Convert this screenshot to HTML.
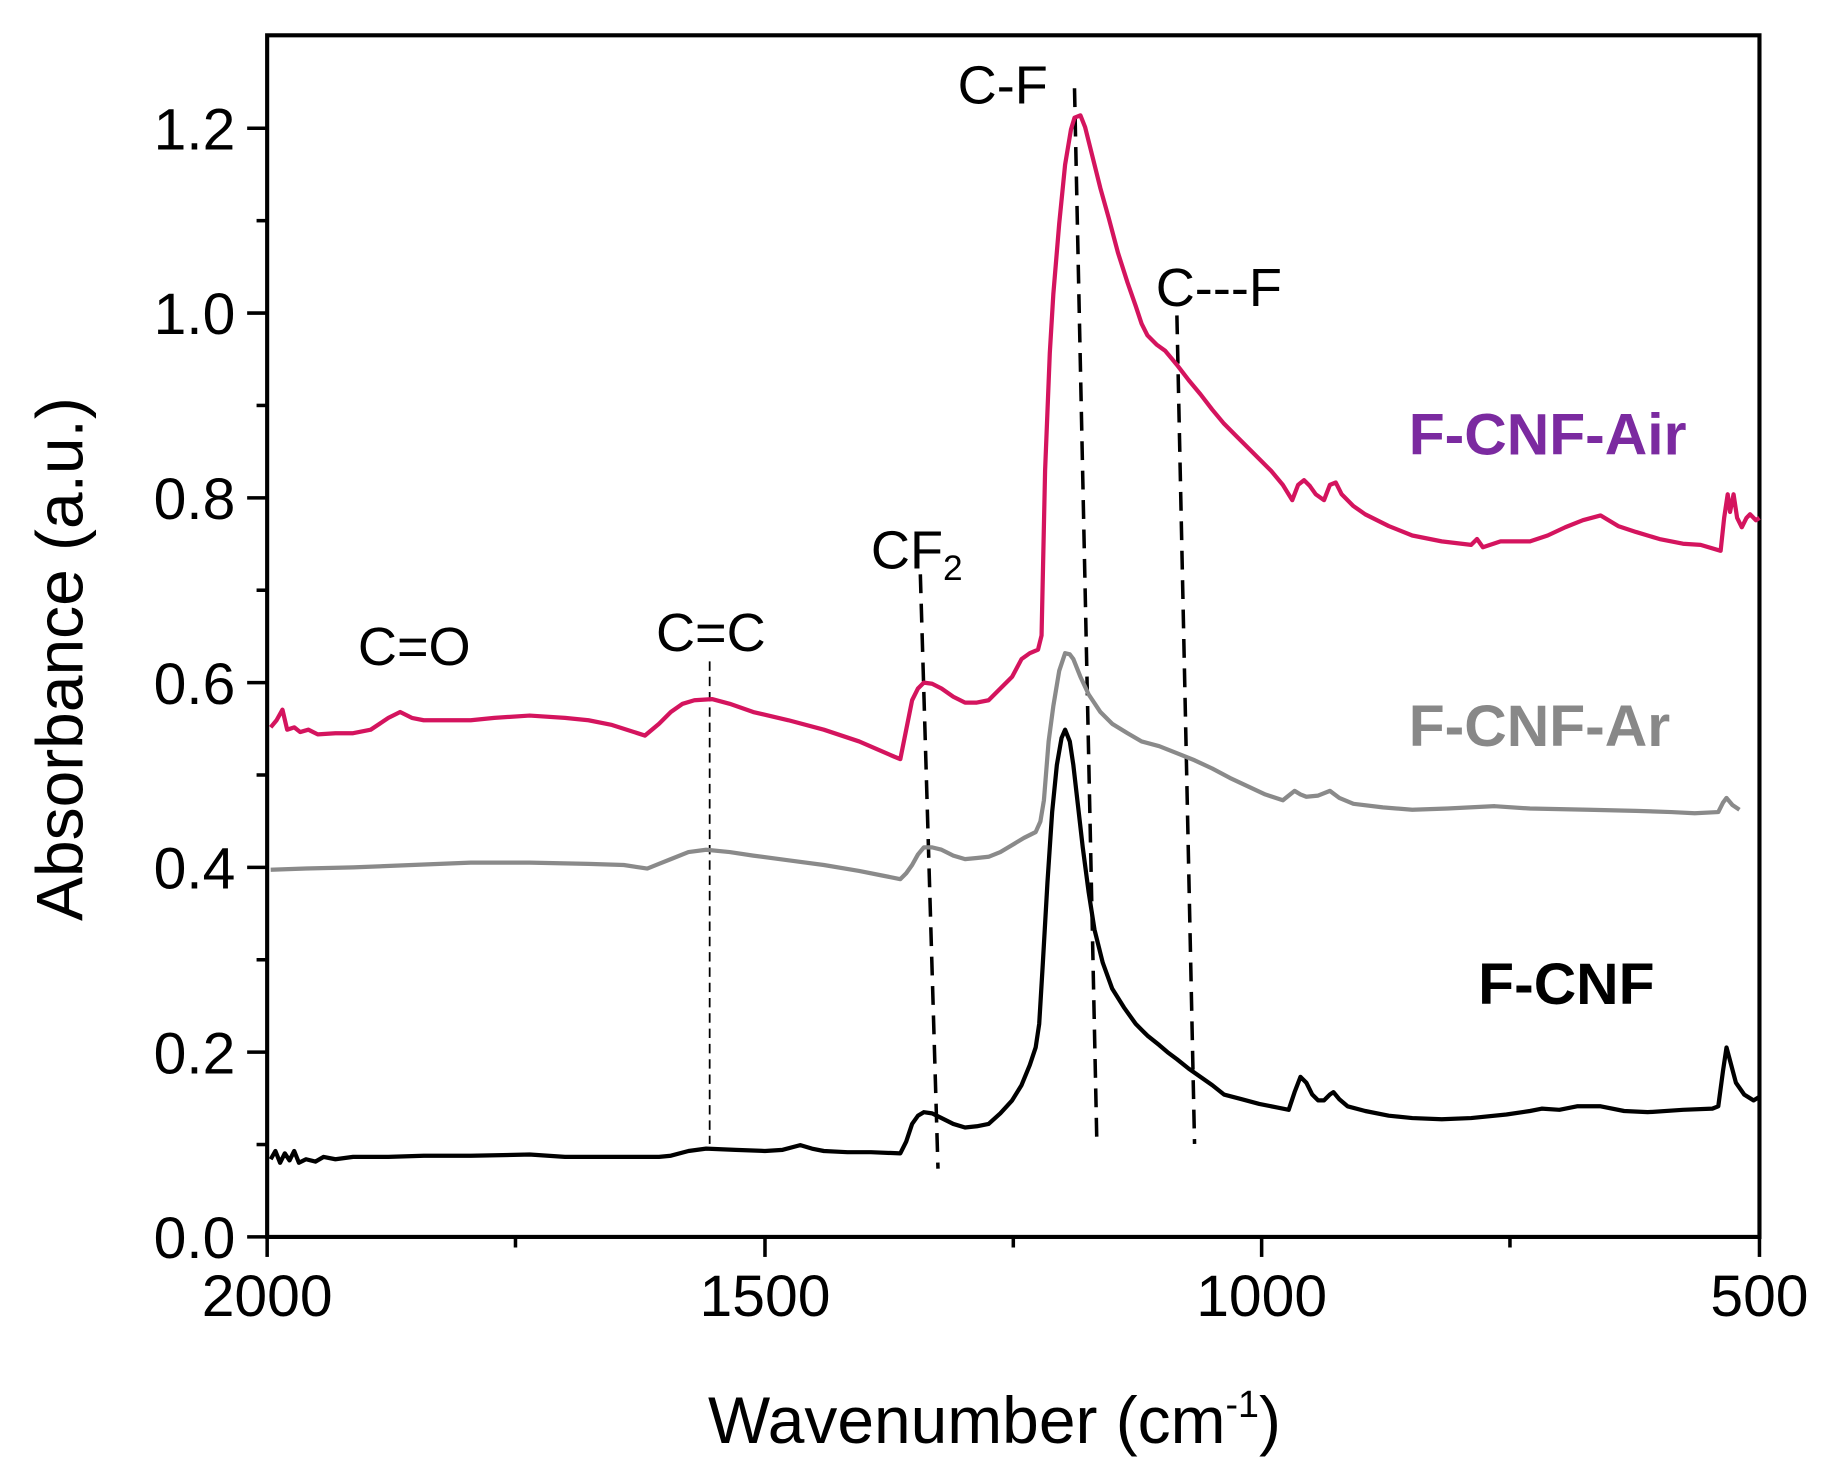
<!DOCTYPE html>
<html><head><meta charset="utf-8"><style>
html,body{margin:0;padding:0;background:#fff;}
svg{display:block;}
text{font-family:"Liberation Sans",sans-serif;}
</style></head><body>
<svg width="1836" height="1469" viewBox="0 0 1836 1469" xmlns="http://www.w3.org/2000/svg">
<g transform="scale(1.1769,1.1769)">
<rect x="227" y="30" width="1268" height="1021" fill="none" stroke="#000" stroke-width="3.5"/>
<g stroke="#000" stroke-width="3">
<line x1="210" y1="1051" x2="227" y2="1051"/>
<line x1="210" y1="894" x2="227" y2="894"/>
<line x1="210" y1="737" x2="227" y2="737"/>
<line x1="210" y1="580" x2="227" y2="580"/>
<line x1="210" y1="423" x2="227" y2="423"/>
<line x1="210" y1="266" x2="227" y2="266"/>
<line x1="210" y1="109" x2="227" y2="109"/>
<line x1="218" y1="972.5" x2="227" y2="972.5"/>
<line x1="218" y1="815.5" x2="227" y2="815.5"/>
<line x1="218" y1="658.5" x2="227" y2="658.5"/>
<line x1="218" y1="501.5" x2="227" y2="501.5"/>
<line x1="218" y1="344.5" x2="227" y2="344.5"/>
<line x1="218" y1="187.5" x2="227" y2="187.5"/>
<line x1="227" y1="1051" x2="227" y2="1068"/>
<line x1="650" y1="1051" x2="650" y2="1068"/>
<line x1="1072" y1="1051" x2="1072" y2="1068"/>
<line x1="1495" y1="1051" x2="1495" y2="1068"/>
<line x1="438" y1="1051" x2="438" y2="1060"/>
<line x1="861" y1="1051" x2="861" y2="1060"/>
<line x1="1283" y1="1051" x2="1283" y2="1060"/>
</g>
<g font-size="50" text-anchor="end" fill="#000">
<text x="200" y="1069">0.0</text>
<text x="200" y="912">0.2</text>
<text x="200" y="755">0.4</text>
<text x="200" y="598">0.6</text>
<text x="200" y="441">0.8</text>
<text x="200" y="284">1.0</text>
<text x="200" y="127">1.2</text>
</g>
<g font-size="50" text-anchor="middle" fill="#000">
<text x="227" y="1118">2000</text>
<text x="650" y="1118">1500</text>
<text x="1072" y="1118">1000</text>
<text x="1495" y="1118">500</text>
</g>
<text x="845" y="1226" font-size="56" text-anchor="middle">Wavenumber (cm<tspan font-size="32" dy="-22">-1</tspan><tspan dy="22">)</tspan></text>
<text transform="translate(70,560) rotate(-90)" font-size="56" text-anchor="middle">Absorbance (a.u.)</text>

<line x1="603" y1="562" x2="603" y2="972" stroke="#000" stroke-width="1.5" stroke-dasharray="8,5"/>
<g stroke="#000" stroke-width="3" stroke-dasharray="16,9">
<line x1="782" y1="488" x2="797" y2="993"/>
<line x1="913" y1="75" x2="932" y2="972"/>
<line x1="1000" y1="268" x2="1015" y2="972"/>
</g>

<polyline fill="none" stroke="#d4145e" stroke-width="3.6" stroke-linejoin="round" points="230,618 235,612 240,603 244,620 250,618 255,622 262,620 270,624 285,623 300,623 315,620 330,610 340,605 350,610 360,612 380,612 400,612 420,610 450,608 480,610 500,612 520,616 548,625 560,615 570,605 580,598 590,595 605,594 620,598 640,605 670,612 700,620 730,630 760,643 765,645 768,630 772,610 775,595 780,585 785,580 792,581 800,585 810,592 820,597 830,597 840,595 850,585 860,575 868,560 875,555 882,552 885,540 888,400 892,300 895,250 900,190 905,140 910,110 913,100 918,98 922,108 925,120 930,140 935,160 942,185 950,215 958,240 965,260 970,275 975,285 983,293 990,298 995,304 1000,310 1010,323 1020,335 1030,348 1040,360 1050,370 1060,380 1070,390 1080,400 1090,412 1098,425 1103,412 1108,408 1113,413 1118,420 1125,425 1130,412 1135,410 1140,420 1150,430 1160,437 1180,447 1200,455 1225,460 1250,463 1255,458 1260,465 1275,460 1300,460 1315,455 1330,448 1345,442 1360,438 1375,447 1390,452 1410,458 1430,462 1445,463 1462,468 1465,440 1468,420 1470,435 1473,420 1476,440 1480,448 1484,440 1487,437 1492,442 1495,440"/>
<polyline fill="none" stroke="#8a8a8a" stroke-width="3.6" stroke-linejoin="round" points="230,739 260,738 300,737 350,735 400,733 450,733 500,734 530,735 550,738 560,734 570,730 585,724 600,722 620,724 640,727 670,731 700,735 730,740 750,744 765,747 770,742 775,735 780,726 785,720 792,720 800,722 810,727 820,730 830,729 840,728 850,724 860,718 870,712 880,707 884,698 887,680 891,630 895,600 900,570 905,555 909,556 912,560 918,575 925,590 935,605 945,615 958,623 970,630 985,634 1000,640 1015,646 1030,653 1045,661 1060,668 1075,675 1090,680 1095,676 1100,672 1105,675 1110,677 1120,676 1130,672 1138,678 1150,683 1175,686 1200,688 1230,687 1270,685 1300,687 1350,688 1390,689 1420,690 1440,691 1460,690 1464,682 1467,678 1472,684 1478,688"/>
<polyline fill="none" stroke="#000" stroke-width="3.6" stroke-linejoin="round" points="230,985 234,978 238,988 242,980 246,986 250,978 254,988 260,985 268,987 275,983 285,985 300,983 330,983 360,982 400,982 450,981 480,983 500,983 530,983 560,983 570,982 585,978 600,976 625,977 650,978 665,977 680,973 690,976 700,978 720,979 740,979 765,980 770,970 775,955 780,948 785,945 792,946 800,950 810,955 820,958 830,957 840,955 850,946 860,935 868,922 875,905 880,890 883,870 886,820 890,750 894,690 898,650 902,627 905,620 909,630 912,650 916,685 920,720 925,758 930,790 937,818 945,840 955,856 965,870 975,880 985,888 992,894 1000,900 1010,908 1020,915 1030,922 1040,930 1055,934 1070,938 1085,941 1095,943 1100,928 1105,915 1110,920 1115,930 1120,935 1125,935 1130,930 1133,928 1138,934 1145,940 1160,944 1180,948 1200,950 1225,951 1250,950 1280,947 1300,944 1310,942 1325,943 1340,940 1360,940 1380,944 1400,945 1430,943 1455,942 1460,940 1464,910 1467,890 1471,905 1475,920 1482,930 1490,935 1495,932"/>

<g font-size="46" fill="#000">
<text x="352" y="565" text-anchor="middle">C=O</text>
<text x="604" y="553" text-anchor="middle">C=C</text>
<text x="740" y="483">CF<tspan font-size="30" dy="10">2</tspan></text>
<text x="852" y="88" text-anchor="middle">C-F</text>
<text x="982" y="260">C---F</text>
</g>
<g font-size="50" font-weight="bold">
<text x="1197" y="386" fill="#7b2aa0">F-CNF-Air</text>
<text x="1197" y="634" fill="#888">F-CNF-Ar</text>
<text x="1256" y="853" fill="#000">F-CNF</text>
</g>
</g>
</svg>
</body></html>
